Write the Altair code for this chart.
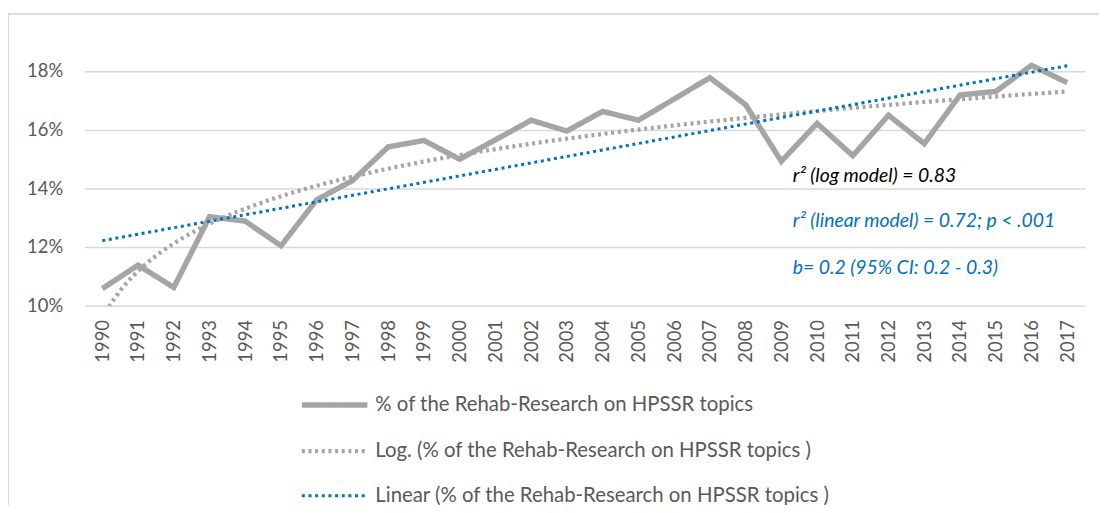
import altair as alt
import pandas as pd

years = list(range(1990, 2018))
pct = [10.58, 11.38, 10.62, 13.03, 12.88, 12.04, 13.61, 14.26, 15.41, 15.63,
       14.99, 15.65, 16.32, 15.95, 16.62, 16.32, 17.04, 17.77, 16.85, 14.92,
       16.21, 15.11, 16.49, 15.52, 17.18, 17.30, 18.19, 17.60]

s_main = "% of the Rehab-Research on HPSSR topics"
s_log = "Log. (% of the Rehab-Research on HPSSR topics )"
s_lin = "Linear (% of the Rehab-Research on HPSSR topics )"
series_names = [s_main, s_log, s_lin]
series_colors = ["#A5A5A5", "#A5A5A5", "#0070C0"]
series_dash = [[1, 0], [3, 3.7], [3, 3.7]]
series_width = [5.5, 3, 3]

ann_text = ["r² (log model) = 0.83", "r² (linear model) = 0.72; p < .001",
            "b= 0.2 (95% CI: 0.2 - 0.3)"]
ann_x = [20.32, 20.32, 20.32]
ann_y = [14.43, 12.87, 11.28]
ann_color = ["#000000", "#0070C0", "#0070C0"]

df = pd.DataFrame({"idx": list(range(1, len(years) + 1)), "year": years, "pct": pct})
ann = pd.DataFrame({"t": ann_text, "x": ann_x, "y": ann_y, "c": ann_color})

FONT = "Lato"
W, H = 1008, 266

xs = alt.Scale(domain=[0.5, 28.5], nice=False, zero=False)
ys = alt.Scale(domain=[10, 19], nice=False, zero=False)

xaxis = alt.Axis(values=list(range(1, 29)), labelExpr="datum.value + 1989",
                 labelAngle=-90, labelAlign="right", labelBaseline="middle",
                 labelFontSize=18.5, labelColor="#595959", labelFont=FONT,
                 labelPadding=14, labelOverlap=False, labelFlush=False,
                 labelBound=False, domain=False, ticks=False, grid=False, title=None)
yaxis = alt.Axis(values=[10, 12, 14, 16, 18], labelExpr="datum.value + '%'",
                 labelFontSize=18.5, labelColor="#595959", labelFont=FONT,
                 labelPadding=22, labelOverlap=False, domain=False, ticks=False,
                 grid=True, gridColor="#d9d9d9", gridWidth=1.5, title=None)

color = alt.Color("series:N", scale=alt.Scale(domain=series_names, range=series_colors),
                  legend=alt.Legend(title=None, orient="none", legendX=216, legendY=330,
                                    direction="vertical", symbolType="stroke",
                                    symbolSize=4356, labelFontSize=20.5, labelFont=FONT,
                                    labelColor="#595959", rowPadding=-26, labelOffset=5,
                                    labelLimit=700))
dash = alt.StrokeDash("series:N", scale=alt.Scale(domain=series_names, range=series_dash),
                      legend=None)
sw = alt.StrokeWidth("series:N", scale=alt.Scale(domain=series_names, range=series_width),
                     legend=None)

X = alt.X("idx:Q", scale=xs, axis=xaxis)
Y = alt.Y("pct:Q", scale=ys, axis=yaxis)

base = alt.Chart(df)

main = base.transform_calculate(series=f"'{s_main}'").mark_line(clip=True).encode(
    x=X, y=Y, color=color, strokeDash=dash, strokeWidth=sw)

logl = base.transform_regression("idx", "pct", method="log").transform_calculate(
    series=f"'{s_log}'").mark_line(clip=True).encode(
    x=X, y=Y, color=color, strokeDash=dash, strokeWidth=sw)

linl = base.transform_regression("idx", "pct", method="linear").transform_calculate(
    series=f"'{s_lin}'").mark_line(clip=True).encode(
    x=X, y=Y, color=color, strokeDash=dash, strokeWidth=sw)

text = alt.Chart(ann).mark_text(align="left", baseline="middle", fontSize=19.5,
                                 fontStyle="italic", font=FONT).encode(
    x=alt.X("x:Q", scale=xs, axis=xaxis), y=alt.Y("y:Q", scale=ys, axis=yaxis),
    color=alt.Color("c:N", scale=None), text="t:N")

# chart-area frame (left and top edges)
frame_left = alt.Chart(ann).mark_rule(color="#d9d9d9", strokeWidth=1.5).encode(
    x=alt.value(-77), y=alt.value(-28), y2=alt.value(470))
frame_top = alt.Chart(ann).mark_rule(color="#d9d9d9", strokeWidth=1.5).encode(
    x=alt.value(-77), x2=alt.value(W + 20), y=alt.value(-28))

chart = alt.layer(frame_left, frame_top, main, logl, linl, text).properties(
    width=W, height=H, background="white",
    autosize=alt.AutoSizeParams(type="none"),
    padding={"left": 77, "top": 32, "right": 14, "bottom": 199},
).configure_view(stroke=None).configure_axis(labelOverlap=False)

chart.save("out.html", embed_options={"renderer": "svg", "actions": False})
